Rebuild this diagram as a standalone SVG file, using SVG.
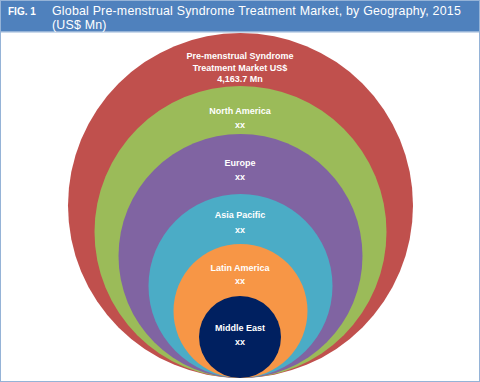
<svg xmlns="http://www.w3.org/2000/svg" width="480" height="382" viewBox="0 0 480 382">
<style>
.hd{font-family:"Liberation Sans",Arial,sans-serif;fill:#fff}
.lb{font-family:"Liberation Sans",Arial,sans-serif;font-weight:bold;font-size:9px;fill:#fff;text-anchor:middle}
</style>
<rect x="0" y="0" width="480" height="382" fill="#fff"/>
<g id="header">
<rect x="0" y="0" width="480" height="31" fill="#4f81bd"/>
<rect x="0" y="31" width="480" height="1.5" fill="#95b3d7"/>
<text class="hd" x="8" y="14.5" font-size="10" font-weight="bold">FIG. 1</text>
<text class="hd" x="52" y="14.5" font-size="12.4" letter-spacing="0.2">Global Pre-menstrual Syndrome Treatment Market, by Geography, 2015</text>
<text class="hd" x="52" y="28.5" font-size="12.4" letter-spacing="0.2">(US$ Mn)</text>
</g>
<g id="total">
<circle cx="240.5" cy="205.5" r="172.5" fill="#c0504d"/>
<text class="lb" x="240" y="59">Pre-menstrual Syndrome</text>
<text class="lb" x="240" y="71">Treatment Market US$</text>
<text class="lb" x="240" y="82">4,163.7 Mn</text>
</g>
<g id="north-america">
<circle cx="240.5" cy="232" r="146" fill="#9bbb59"/>
<text class="lb" x="240" y="114">North America</text>
<text class="lb" x="240" y="128">xx</text>
</g>
<g id="europe">
<circle cx="240.5" cy="256" r="122" fill="#8064a2"/>
<text class="lb" x="240" y="166">Europe</text>
<text class="lb" x="240" y="180">xx</text>
</g>
<g id="asia-pacific">
<circle cx="240.5" cy="286" r="92" fill="#4bacc6"/>
<text class="lb" x="240" y="218">Asia Pacific</text>
<text class="lb" x="240" y="233">xx</text>
</g>
<g id="latin-america">
<circle cx="240.5" cy="311" r="67" fill="#f79646"/>
<text class="lb" x="240" y="271">Latin America</text>
<text class="lb" x="240" y="284">xx</text>
</g>
<g id="middle-east">
<circle cx="240" cy="337" r="41" fill="#002060"/>
<text class="lb" x="240" y="331">Middle East</text>
<text class="lb" x="240" y="345">xx</text>
</g>
<g id="connectors"></g>
<rect x="0.5" y="0.5" width="479" height="381" fill="none" stroke="#95b3d7" stroke-width="1"/>
</svg>
